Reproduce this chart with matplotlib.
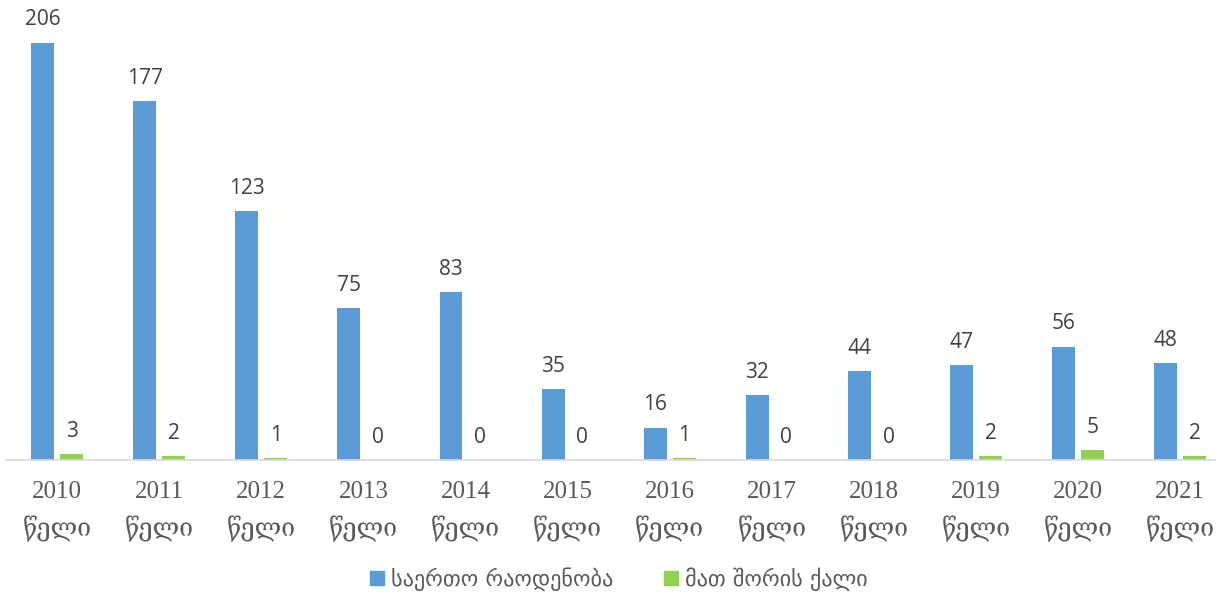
import numpy as np
import matplotlib.pyplot as plt
from matplotlib.patches import Patch

years = ["2010", "2011", "2012", "2013", "2014", "2015", "2016", "2017", "2018", "2019", "2020", "2021"]
total = [206, 177, 123, 75, 83, 35, 16, 32, 44, 47, 56, 48]
women = [3, 2, 1, 0, 0, 0, 1, 0, 0, 2, 5, 2]
year_word = "წელი"
series_names = ["საერთო რაოდენობა", "მათ შორის ქალი"]

blue = "#5b9bd5"
green = "#92d050"
label_color = "#404040"

fig = plt.figure(figsize=(12.25, 5.94), dpi=100)
ax = fig.add_axes([6 / 1225, 134 / 594, (1215 - 6) / 1225, 460 / 594])

x = np.arange(len(years))
w = 0.225
off = 0.142
b1 = ax.bar(x - off, total, w, color=blue)
b2 = ax.bar(x + off, women, w, color=green)

for bars, vals in ((b1, total), (b2, women)):
    for r, v in zip(bars, vals):
        ax.text(r.get_x() + r.get_width() / 2, max(v, 0) + 6, str(v),
                ha="center", va="bottom", fontsize=15, color=label_color,
                family=["Open Sans", "DejaVu Sans"])

ax.set_xlim(-0.5, 11.34)
ax.set_ylim(0, 227)
ax.set_yticks([])
for s in ["top", "left", "right"]:
    ax.spines[s].set_visible(False)
ax.spines["bottom"].set_color("#d9d9d9")
ax.spines["bottom"].set_linewidth(1.2)

ax.set_xticks(x)
ax.set_xticklabels([f"{y}\n{year_word}" for y in years], fontsize=18, color="#595959",
                   family=["Liberation Serif", "DejaVu Serif"], linespacing=1.6)
ax.tick_params(axis="x", length=0, pad=15)

handles = [Patch(color=blue), Patch(color=green)]
fig.legend(handles, series_names, loc="center", bbox_to_anchor=(0.505, 1 - 579 / 594),
           ncol=2, frameon=False, handlelength=0.65, handleheight=0.65,
           handletextpad=0.3, columnspacing=2.3,
           prop={"family": ["DejaVu Sans"], "size": 16})
for t in fig.legends[0].get_texts():
    t.set_color("#595959")

fig.savefig("out.png", dpi=100)
